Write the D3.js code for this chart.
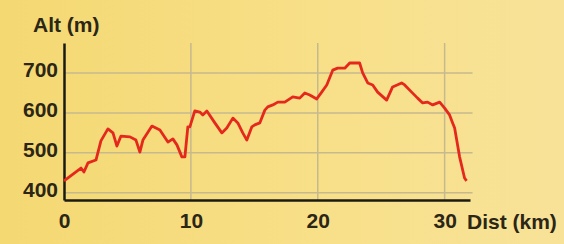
<!DOCTYPE html>
<html>
<head>
<meta charset="utf-8">
<script src="https://cdn.jsdelivr.net/npm/d3@7"></script>
<style>
  body { margin: 0; background: #f6de84; }
  svg { display: block; }
  text { font-family: "Liberation Sans", Arial, sans-serif; font-weight: bold; fill: #2b2616; }
</style>
</head>
<body>
<div id="chart"></div>
<script>
const dist = [0, 1.34, 1.57, 1.89, 2.52, 2.91, 3.46, 3.86, 4.17, 4.49, 5.2, 5.67, 5.98, 6.22, 6.93,
  7.56, 8.19, 8.58, 8.9, 9.29, 9.53, 9.76, 9.92, 10.31, 10.71, 10.94, 11.26, 11.89, 12.44, 12.83,
  13.31, 13.7, 14.09, 14.41, 14.8, 15.04, 15.43, 15.83, 16.06, 16.46, 16.85, 17.4, 18.03, 18.58,
  18.98, 19.37, 19.92, 20.31, 20.71, 21.18, 21.57, 22.13, 22.52, 23.07, 23.3, 23.54, 23.94, 24.33,
  24.72, 25.43, 25.9, 26.61, 26.85, 27.4, 27.87, 28.27, 28.66, 29.06, 29.61, 30.0, 30.39, 30.63,
  30.79, 31.18, 31.57, 31.73];
const alt = [430, 462, 452, 475, 482, 530, 560, 550, 517, 542, 540, 532, 502, 532, 567,
  557, 527, 535, 520, 490, 490, 565, 565, 605, 602, 595, 605, 575, 550, 562,
  587, 575, 550, 532, 565, 570, 575, 607, 615, 620, 627, 627, 640, 637,
  650, 645, 635, 652, 670, 707, 712, 712, 725, 725, 725, 700, 675, 670,
  652, 632, 665, 675, 670, 652, 637, 625, 627, 620, 627, 612, 595, 575,
  562, 490, 437, 430];
const xTicks = [0, 10, 20, 30];
const yTicks = [400, 500, 600, 700];

const W = 564, H = 244;
const MARGIN = { TOP: 43, BOTTOM: 44, LEFT: 64, RIGHT: 94 };
const WIDTH = W - MARGIN.LEFT - MARGIN.RIGHT;
const HEIGHT = H - MARGIN.TOP - MARGIN.BOTTOM;

const svg = d3.select("#chart").append("svg")
  .attr("width", W)
  .attr("height", H);

// paper background, a little warmer on the left
const grad = svg.append("defs").append("linearGradient")
  .attr("id", "paper").attr("x1", 0).attr("x2", 1).attr("y1", 0).attr("y2", 0);
grad.append("stop").attr("offset", 0).attr("stop-color", "#f4d872");
grad.append("stop").attr("offset", 0.6).attr("stop-color", "#f8e08a");
grad.append("stop").attr("offset", 1).attr("stop-color", "#f7e298");
svg.append("rect").attr("width", W).attr("height", H).attr("fill", "url(#paper)");

const g = svg.append("g")
  .attr("transform", `translate(${MARGIN.LEFT}, ${MARGIN.TOP})`);

const x = d3.scaleLinear().domain([0, 32]).range([0, WIDTH]);
const y = d3.scaleLinear().domain([382, 775]).range([HEIGHT, 0]);

// grid
g.append("g").selectAll("line").data(yTicks).join("line")
  .attr("x1", 0).attr("x2", x(32.2))
  .attr("y1", d => y(d)).attr("y2", d => y(d))
  .attr("stroke", "#c6b98e").attr("stroke-width", 1.5);
g.append("g").selectAll("line").data(xTicks.slice(1)).join("line")
  .attr("x1", d => x(d)).attr("x2", d => x(d))
  .attr("y1", 0).attr("y2", HEIGHT)
  .attr("stroke", "#c6b98e").attr("stroke-width", 1.5);

// axes
const xAxisCall = d3.axisBottom(x).tickValues(xTicks).tickSize(0).tickPadding(13);
const xAxisGroup = g.append("g")
  .attr("transform", `translate(0, ${HEIGHT})`)
  .call(xAxisCall);
const yAxisCall = d3.axisLeft(y).tickValues(yTicks).tickSize(0).tickPadding(6);
const yAxisGroup = g.append("g").call(yAxisCall);

[xAxisGroup, yAxisGroup].forEach(ax => {
  ax.select(".domain").attr("stroke", "#1a1a12").attr("stroke-width", 2.5);
  ax.selectAll("text")
    .attr("font-family", "Liberation Sans, Arial, sans-serif")
    .attr("font-weight", "bold")
    .attr("font-size", 21)
    .attr("fill", "#2b2616");
});
yAxisGroup.selectAll("text").attr("dy", "0.18em");

// profile line
const line = d3.line()
  .x((d, i) => x(dist[i]))
  .y(d => y(d));

g.append("path")
  .datum(alt)
  .attr("fill", "none")
  .attr("stroke", "#e5281c")
  .attr("stroke-width", 2.8)
  .attr("stroke-linejoin", "round")
  .attr("d", line);

// axis titles
svg.append("text")
  .attr("x", 33).attr("y", 32)
  .attr("font-size", 21)
  .text("Alt (m)");
svg.append("text")
  .attr("x", 467).attr("y", 229)
  .attr("font-size", 21)
  .text("Dist (km)");
</script>
</body>
</html>
